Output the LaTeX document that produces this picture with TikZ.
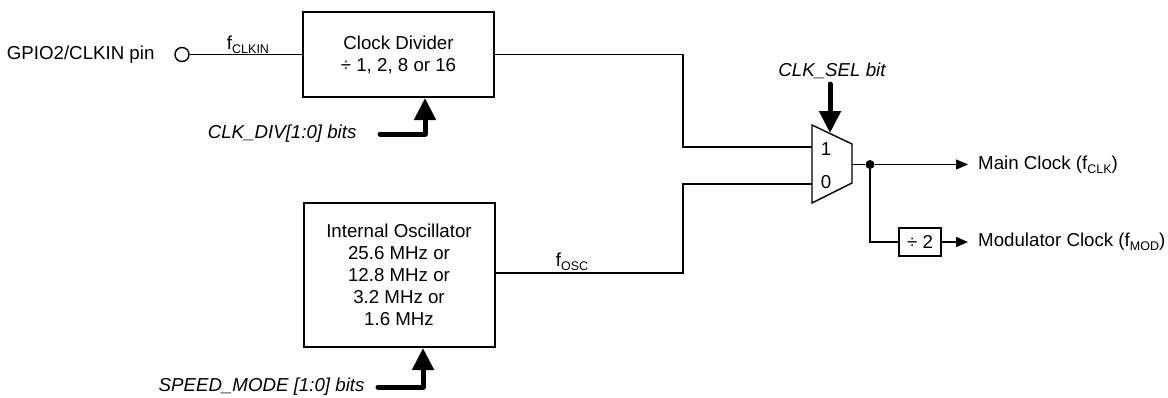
\documentclass[tikz,border=0pt]{standalone}
\usepackage{fontspec}
\setmainfont{Liberation Sans}
\usetikzlibrary{arrows.meta}
\newcommand\sbt[1]{\raisebox{-0.4ex}{\fontsize{12.5}{12.5}\selectfont #1}}
\begin{document}
\begin{tikzpicture}[x=1pt,y=-1pt,
  font=\fontsize{18.7}{22}\selectfont,
  blk/.style={draw, line width=2pt, minimum width=191pt, align=center, inner sep=0pt},
  wire/.style={line width=1.4pt},
  sig/.style={wire, -{Triangle[length=12pt,width=10pt]}},
  ctl/.style={line width=5pt, line cap=round, line join=round, -{Triangle[length=22pt,width=21pt]}},
  lbl/.style={font=\fontsize{18.7}{22}\selectfont\itshape},
  outlbl/.style={anchor=west, inner xsep=10pt, inner ysep=0pt}]
\useasboundingbox (0,0) rectangle (1168,397);

% blocks
\node[blk, minimum height=85pt] (div) at (398.5,54.5) {Clock Divider\\÷ 1, 2, 8 or 16};
\node[blk, minimum height=144pt] (osc) at (399,275) {Internal Oscillator\\25.6 MHz or\\12.8 MHz or\\3.2 MHz or\\1.6 MHz};

% input pin
\node[circle, draw, line width=1.4pt, minimum size=14pt, inner sep=0pt] (pin) at (182,54.5) {};
\node[anchor=east] (gpio) at (158,54.5) {GPIO2/CLKIN pin};
\draw[wire] (pin.east) -- (div.west);
\node (fclkin) at (248,45) {f\sbt{CLKIN}};

% mux
\draw[wire] (812,125) -- (852,144) -- (852,183) -- (812,203) -- cycle;
\coordinate (m1) at (812,147);
\coordinate (m0) at (812,184);
\coordinate (mout) at (852,164.5);
\coordinate (selin) at (830,133);
\node (l1) at (826,149) {1};
\node (l0) at (826,182) {0};

% mux inputs
\draw[wire] (div.east) -- (683,54.5) |- (m1);
\draw[wire] (osc.east) ++(0,-2) -- (683,273) |- (m0);
\node (fosc) at (572,262) {f\sbt{OSC}};

% outputs
\node[circle, fill, inner sep=0pt, minimum size=9pt] (dot) at (870,164.5) {};
\draw[wire] (mout) -- (dot);
\node[outlbl] (mainclk) at (968,164.5) {Main Clock (f\sbt{CLK})};
\draw[sig] (dot) -- (mainclk.west);
\node[draw, line width=2pt, minimum width=42pt, minimum height=28pt, inner sep=0pt] (d2) at (920,242) {÷ 2};
\draw[wire] (dot) |- (d2.west);
\node[outlbl] (modclk) at (968,242) {Modulator Clock (f\sbt{MOD})};
\draw[sig] (d2.east) -- (modclk.west);

% control inputs
\node[lbl, anchor=east] (clkdiv) at (360,134) {CLK\_DIV[1:0] bits};
\draw[ctl] ([xshift=20pt]clkdiv.east) -| ([xshift=26.5pt]div.south);
\node[lbl, anchor=east] (spd) at (368,387) {SPEED\_MODE [1:0] bits};
\draw[ctl] ([xshift=10pt]spd.east) -| ([xshift=24pt]osc.south);
\node[lbl] (clksel) at (832,71) {CLK\_SEL bit};
\draw[ctl] (830,84) -- (selin);
\end{tikzpicture}
\end{document}
